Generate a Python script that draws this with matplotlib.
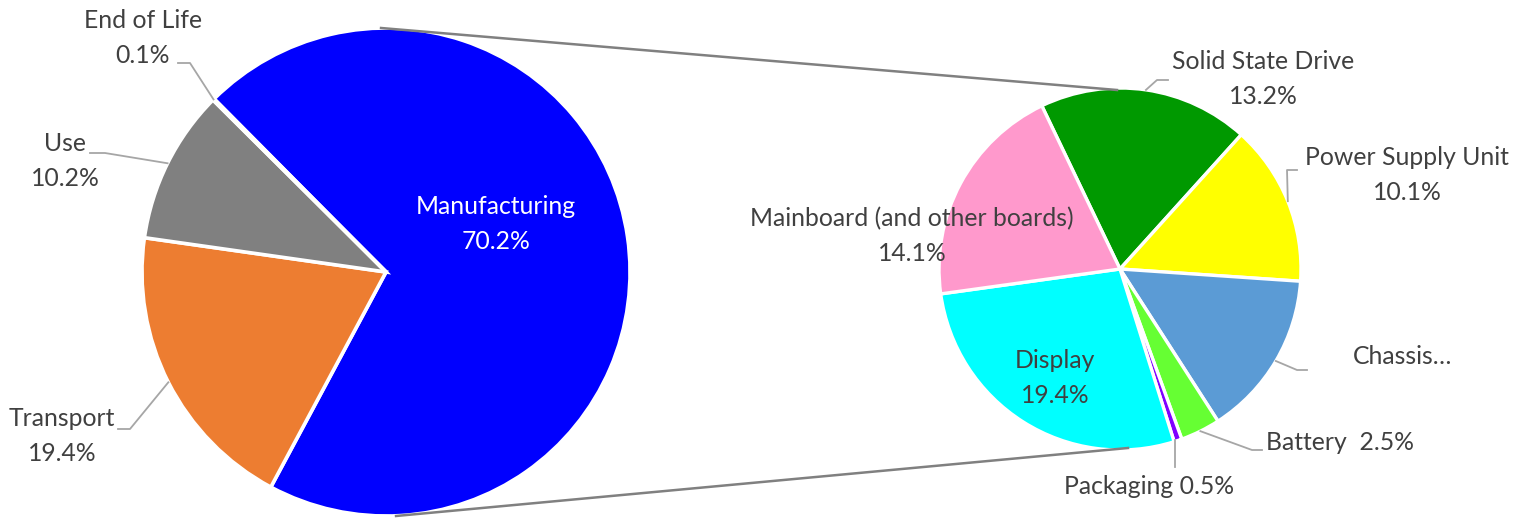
import numpy as np
import matplotlib
matplotlib.use("Agg")
import matplotlib.pyplot as plt

# --- data (shares of total footprint, %) ---
main_labels = ["Manufacturing", "Transport", "Use", "End of Life"]
main_values = [70.2, 19.4, 10.2, 0.1]
main_colors = ["#0000FF", "#ED7D31", "#808080", "#FFC000"]

sub_labels = ["Solid State Drive", "Power Supply Unit", "Chassis", "Battery",
              "Packaging", "Display", "Mainboard (and other boards)"]
sub_values = [13.2, 10.1, 10.4, 2.5, 0.5, 19.4, 14.1]
sub_colors = ["#009900", "#FFFF00", "#5B9BD5", "#66FF33", "#8000FF", "#00FFFF", "#FF99CC"]

# --- layout (pixel coords, y measured from the bottom) ---
W, H = 1536, 518
C1, R1 = (386, 246), 244
C2, R2 = (1120, 249), 181
TXT = "#404040"
LEAD = "#A6A6A6"
plt.rcParams["font.family"] = ["Lato", "DejaVu Sans"]
FS = 17.8
LS = 1.6

fig = plt.figure(figsize=(W / 100, H / 100), dpi=100)
ax = fig.add_axes([0, 0, 1, 1])

explode = [0.045, 0, 0, 0]
w1, _ = ax.pie(main_values, colors=main_colors, center=C1, radius=R1, startangle=134.8,
               counterclock=False, explode=explode,
               wedgeprops=dict(edgecolor="white", linewidth=2.6))
w2, _ = ax.pie(sub_values, colors=sub_colors, center=C2, radius=R2, startangle=115.6,
               counterclock=False, wedgeprops=dict(edgecolor="white", linewidth=2.4))

ax.set_xlim(0, W)
ax.set_ylim(0, H)
ax.set_aspect("equal")
ax.axis("off")

# series lines from the split slice to the second pie
mc = w1[0].center
ax.plot([mc[0] - 5, C2[0] - 3], [mc[1] + R1, C2[1] + R2 - 2], color="#808080", lw=1.8, zorder=5)
ax.plot([mc[0] + 10, C2[0] + 8], [mc[1] - R1, C2[1] - R2 + 2], color="#808080", lw=1.8, zorder=5)


def edge_point(w):
    mid = np.deg2rad((w.theta1 + w.theta2) / 2)
    cx, cy = w.center
    return cx + w.r * np.cos(mid), cy + w.r * np.sin(mid)


def py(v):
    return H - v


def pct(v):
    return f"{v:.1f}%"


# label position (x, y from top) and leader elbow points (y from top)
main_lab = {
    "Transport": ((62, 436), [(130, 429), (118, 429)]),
    "Use": ((65, 161), [(105, 153), (90, 153)]),
    "End of Life": ((143, 38), [(190, 63), (178, 63)]),
}
for w, lab, val in zip(w1, main_labels, main_values):
    txt = f"{lab}\n{pct(val)}"
    if lab == "Manufacturing":
        ax.text(496, py(224), txt, color="white", fontsize=FS, ha="center", va="center",
                linespacing=LS)
        continue
    (tx, ty), elbow = main_lab[lab]
    ax.text(tx, py(ty), txt, color=TXT, fontsize=FS, ha="center", va="center", linespacing=LS)
    sx, sy = edge_point(w)
    xs = [sx] + [p[0] for p in elbow]
    ys = [sy] + [py(p[1]) for p in elbow]
    ax.plot(xs, ys, color=LEAD, lw=1.3, zorder=4)

sub_lab = {
    "Solid State Drive": ((1263, 79), f"Solid State Drive\n{pct(13.2)}", [(1157, 80), (1168, 80)]),
    "Power Supply Unit": ((1407, 175), f"Power Supply Unit\n{pct(10.1)}", [(1287, 170), (1297, 170)]),
    "Chassis": ((1403, 357), "Chassis…", [(1297, 370), (1307, 370)]),
    "Battery": ((1340, 442), f"Battery  {pct(2.5)}", [(1252, 450), (1262, 450)]),
    "Packaging": ((1149, 486), f"Packaging {pct(0.5)}", [(1175, 467)]),
    "Display": ((1055, 378), f"Display\n{pct(19.4)}", None),
    "Mainboard (and other boards)": ((912, 236), f"Mainboard (and other boards)\n{pct(14.1)}", None),
}
for w, lab in zip(w2, sub_labels):
    (tx, ty), txt, elbow = sub_lab[lab]
    ax.text(tx, py(ty), txt, color=TXT, fontsize=FS, ha="center", va="center", linespacing=LS)
    if elbow:
        sx, sy = edge_point(w)
        if lab == "Packaging":
            sx = elbow[0][0]
        xs = [sx] + [p[0] for p in elbow]
        ys = [sy] + [py(p[1]) for p in elbow]
        ax.plot(xs, ys, color=LEAD, lw=1.3, zorder=4)

fig.savefig("out.png", dpi=100)
